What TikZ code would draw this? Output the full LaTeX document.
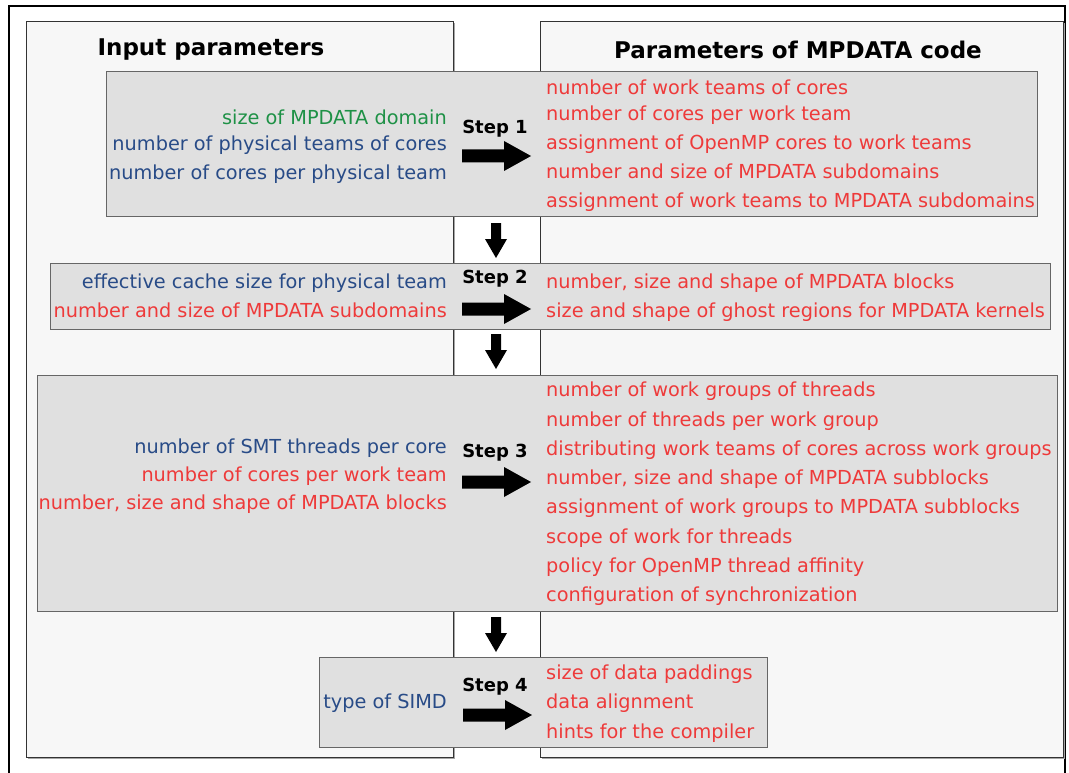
\documentclass[tikz,border=0pt]{standalone}
\usepackage{fontspec}
\setmainfont{DejaVu Sans}
\begin{document}
\begin{tikzpicture}[x=1pt,y=-1pt,
  panel/.style={draw=black!80,line width=1pt,fill=black!3},
  stepbox/.style={draw=black!60,line width=1pt,fill=black!12},
  title/.style={font=\fontsize{23}{26}\selectfont\bfseries,anchor=center},
  steplabel/.style={font=\fontsize{18}{22}\selectfont\bfseries,anchor=center},
  inl/.style={font=\fontsize{19.3}{23}\selectfont,anchor=mid east,inner sep=0pt},
  outl/.style={font=\fontsize{19.3}{23}\selectfont,anchor=mid west,inner sep=0pt,text=pred},
  bigarrow/.style={fill=black}]
\definecolor{pred}{RGB}{238,58,58}
\definecolor{pblue}{RGB}{40,75,135}
\definecolor{pgreen}{RGB}{30,145,70}
\useasboundingbox (0,0) rectangle (1069,773);

% outer frame
\draw[line width=2.5pt] (9,773) -- (9,6) -- (1065,6) -- (1065,773);

% column panels with a faint shadow
\fill[black!35] (27.5,23.5) rectangle (455,759);
\draw[panel] (26,22) rectangle (453,757);
\fill[black!35] (541.5,23.5) rectangle (1065,759);
\draw[panel] (540,22) rectangle (1063,757);

\node[title] (tin) at (211,50) {Input parameters};
\node[title] (tout) at (798,50) {Parameters of MPDATA code};

% step boxes
\draw[stepbox] (106,72) rectangle (1037,216);
\draw[stepbox] (50,263) rectangle (1050,329);
\draw[stepbox] (37,375) rectangle (1057,611);
\draw[stepbox] (319,657) rectangle (767,747);

% right arrows: tail x, centre y
\newcommand{\rarrow}[2]{%
  \fill[bigarrow] (#1,#2-6.5) -- (#1+42,#2-6.5) -- (#1+42,#2-15) -- (#1+69,#2)
    -- (#1+42,#2+15) -- (#1+42,#2+6.5) -- (#1,#2+6.5) -- cycle;}
% down arrows: centre x, top y
\newcommand{\darrow}[2]{%
  \fill[bigarrow] (#1-5,#2) -- (#1+5,#2) -- (#1+5,#2+16) -- (#1+11,#2+16)
    -- (#1,#2+35) -- (#1-11,#2+16) -- (#1-5,#2+16) -- cycle;}

\begin{scope}[yshift=-4.5pt]
% Step 1
\node[inl,text=pgreen] (i11) at (447,117) {size of MPDATA domain};
\node[inl,text=pblue] (i12) at (447,143) {number of physical teams of cores};
\node[inl,text=pblue] (i13) at (447,172) {number of cores per physical team};
\node[outl] (o11) at (546,87) {number of work teams of cores};
\node[outl] (o12) at (546,113) {number of cores per work team};
\node[outl] (o13) at (546,142) {assignment of OpenMP cores to work teams};
\node[outl] (o14) at (546,171) {number and size of MPDATA subdomains};
\node[outl] (o15) at (546,200) {assignment of work teams to MPDATA subdomains};

% Step 2
\node[inl,text=pblue] (i21) at (447,281) {effective cache size for physical team};
\node[inl,text=pred] (i22) at (447,310) {number and size of MPDATA subdomains};
\node[outl] (o21) at (546,281) {number, size and shape of MPDATA blocks};
\node[outl] (o22) at (546,310) {size and shape of ghost regions for MPDATA kernels};

% Step 3
\node[inl,text=pblue] (i31) at (447,446) {number of SMT threads per core};
\node[inl,text=pred] (i32) at (447,474) {number of cores per work team};
\node[inl,text=pred] (i33) at (447,502) {number, size and shape of MPDATA blocks};
\node[outl] (o31) at (546,389) {number of work groups of threads};
\node[outl] (o32) at (546,419) {number of threads per work group};
\node[outl] (o33) at (546,448) {distributing work teams of cores across work groups};
\node[outl] (o34) at (546,477) {number, size and shape of MPDATA subblocks};
\node[outl] (o35) at (546,506) {assignment of work groups to MPDATA subblocks};
\node[outl] (o36) at (546,536) {scope of work for threads};
\node[outl] (o37) at (546,565) {policy for OpenMP thread affinity};
\node[outl] (o38) at (546,594) {configuration of synchronization};

% Step 4
\node[inl,text=pblue] (i41) at (447,701) {type of SIMD};
\node[outl] (o41) at (546,672) {size of data paddings};
\node[outl] (o42) at (546,701) {data alignment};
\node[outl] (o43) at (546,731) {hints for the compiler};
\end{scope}

% step labels and arrows
\node[steplabel] (s1) at (495,129) {Step 1};
\rarrow{462}{156}
\darrow{496}{223}
\node[steplabel] (s2) at (495,279) {Step 2};
\rarrow{462}{309}
\darrow{496}{334}
\node[steplabel] (s3) at (495,453) {Step 3};
\rarrow{462}{482}
\darrow{496}{617}
\node[steplabel] (s4) at (495,687) {Step 4};
\rarrow{463}{715}
\end{tikzpicture}
\end{document}
